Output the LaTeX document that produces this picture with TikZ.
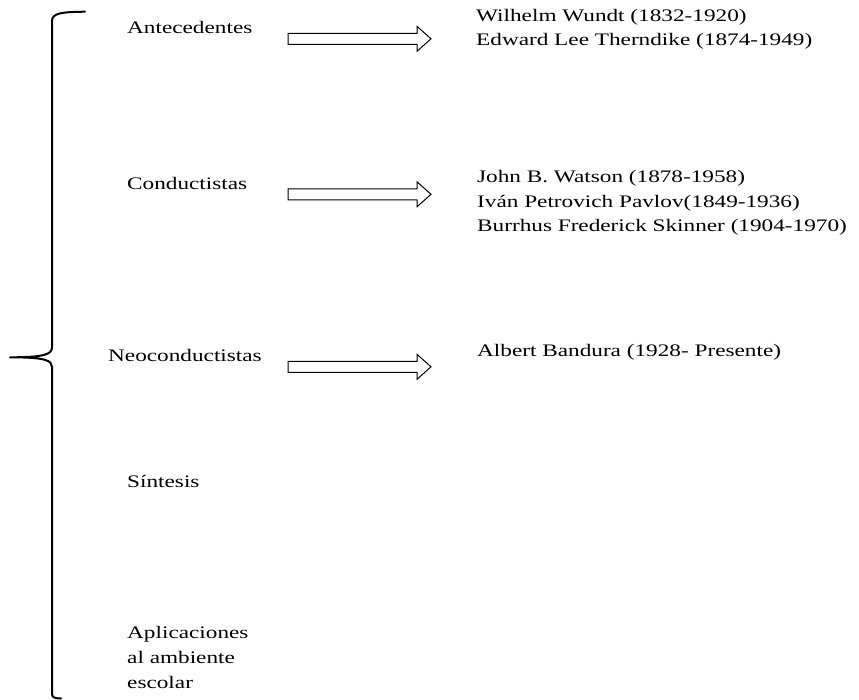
\documentclass[tikz,border=0pt]{standalone}
\usepackage{fontspec}
\setmainfont[FakeStretch=1.32]{Liberation Serif}
\begin{document}
\begin{tikzpicture}[x=1pt,y=-1pt,
  lbl/.style={anchor=base west,inner sep=0pt,font=\fontsize{17.6}{24}\selectfont},
  brace/.style={line width=2pt,line cap=round,line join=round},
  barrow/.style={draw,line width=1pt,fill=white}]
\useasboundingbox[fill=white] (0,0) rectangle (859,700);
% brace
\coordinate (btop) at (85,11.7);
\coordinate (btip) at (10,357.3);
\coordinate (bbot) at (61,698.5);
\draw[brace] (btop) .. controls (62,12) and (52,13) .. (52,21) -- (52,347)
  .. controls (52,354) and (46,357.3) .. (btip)
  .. controls (46,357.3) and (52,360.5) .. (52,367) -- (52,694)
  .. controls (52,697.5) and (55,698.5) .. (bbot);
% left labels
\node[lbl] (ant) at (127,34) {Antecedentes};
\node[lbl] (con) at (127,189.5) {Conductistas};
\node[lbl] (neo) at (108,362) {Neoconductistas};
\node[lbl] (sin) at (127,487) {Síntesis};
\node[lbl] (apl1) at (127,638) {Aplicaciones};
\node[lbl] (apl2) at (127,663) {al ambiente};
\node[lbl] (apl3) at (127,688) {escolar};
% block arrows
\foreach \n/\yy in {a1/27.8, a2/183.3, a3/355.8}{
  \coordinate (\n) at (288,\yy);
  \draw[barrow] ([yshift=-5.5pt]\n) -- ++(129,0) -- ++(0,-7) -- ++(14,12.5)
     -- ++(-14,12.5) -- ++(0,-7) -- ++(-129,0) -- cycle;
}
% right labels
\node[lbl] (ww) at (476,22) {Wilhelm Wundt (1832-1920)};
\node[lbl] (el) at (476,46) {Edward Lee Therndike (1874-1949)};
\node[lbl] (jw) at (477,183) {John B. Watson (1878-1958)};
\node[lbl] (ip) at (477,207.5) {Iván Petrovich Pavlov(1849-1936)};
\node[lbl] (bs) at (477,232) {Burrhus Frederick Skinner (1904-1970)};
\node[lbl] (ab) at (477,356) {Albert Bandura (1928- Presente)};
\end{tikzpicture}
\end{document}
